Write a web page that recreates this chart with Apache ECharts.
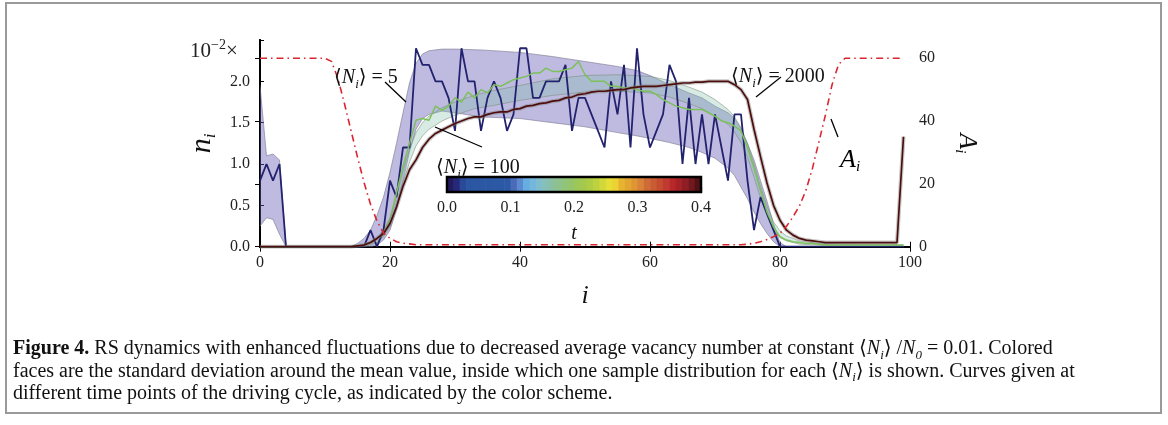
<!DOCTYPE html>
<html>
<head>
<meta charset="utf-8">
<script src="https://cdn.jsdelivr.net/npm/echarts/dist/echarts.min.js"></script>
<style>
html,body{margin:0;padding:0;background:#fff;}
#c{width:1168px;height:425px;}
</style>
</head>
<body>
<div id="c"></div>
<script>
// ---------- data ----------
const siteIndex = [0,1,2,3,4,5,6,7,8,9,10,11,12,13,14,15,16,17,18,19,20,21,22,23,24,25,26,27,28,29,30,31,32,33,34,35,36,37,38,39,40,41,42,43,44,45,46,47,48,49,50,51,52,53,54,55,56,57,58,59,60,61,62,63,64,65,66,67,68,69,70,71,72,73,74,75,76,77,78,79,80,81,82,83,84,85,86,87,88,89,90,91,92,93,94,95,96,97,98,99];

// sample distribution, <N_i> = 5  (units of 1e-2)
const sampleN5 = [0.8,1.0,0.8,1.0,0,0,0,0,0,0,0,0,0,0,0,0,0,0.2,0,0.2,
  0.8,0.6,1.2,1.2,2.4,2.2,2.2,2.0,2.0,1.8,1.4,2.4,2.0,2.0,1.4,1.8,2.0,1.8,1.4,1.6,
  2.4,2.4,1.8,1.8,2.0,2.0,2.0,2.2,1.4,1.8,1.8,1.6,1.4,1.2,2.0,1.6,2.2,1.2,2.4,1.6,
  1.2,1.4,1.6,2.2,2.0,1.0,1.8,1.0,1.6,1.0,1.6,1.2,0.8,1.6,1.6,0.8,0.2,0.6,0.4,0.2,
  0,0,0,0,0,0,0,0,0,0,0,0,0,0,0,0,0,0,0,0];

// sample distribution, <N_i> = 100
const sampleN100 = [0,0,0,0,0,0,0,0,0,0,0,0,0,0,0,0.01,0.02,0.05,0.1,0.16,
  0.33,0.65,0.97,1.25,1.53,1.55,1.53,1.7,1.65,1.7,1.8,1.75,1.87,1.8,1.9,1.86,1.96,1.94,1.98,2.02,
  2.04,2.06,2.1,2.1,2.16,2.12,2.12,2.14,2.16,2.24,2.08,2.0,2.0,2.0,1.94,1.94,1.92,1.92,1.9,1.88,
  1.88,1.84,1.78,1.74,1.7,1.68,1.66,1.66,1.66,1.62,1.58,1.52,1.5,1.46,1.4,1.2,0.95,0.68,0.42,0.24,
  0.12,0.08,0.06,0.05,0.04,0.04,0.03,0.02,0.02,0.02,0.02,0.02,0.02,0.02,0.02,0.02,0.02,0.02,0.02,0.02];

// sample distribution, <N_i> = 2000
const sampleN2000 = [0,0,0,0,0,0,0,0,0,0,0,0,0,0,0,0.01,0.02,0.05,0.1,0.16,
  0.28,0.48,0.73,0.93,1.05,1.2,1.3,1.37,1.41,1.45,1.49,1.52,1.55,1.57,1.57,1.6,1.62,1.63,1.63,1.66,
  1.67,1.7,1.71,1.73,1.74,1.76,1.77,1.8,1.81,1.84,1.85,1.87,1.88,1.88,1.89,1.9,1.9,1.92,1.93,1.94,
  1.94,1.94,1.95,1.96,1.97,1.98,1.98,1.99,1.99,2.0,2.0,2.0,2.0,1.96,1.9,1.78,1.42,1.09,0.77,0.5,
  0.32,0.2,0.14,0.1,0.08,0.07,0.06,0.05,0.05,0.05,0.05,0.05,0.05,0.05,0.05,0.05,0.05,0.05,0.05,1.33];

// driving amplitude A_i (right axis)
const amplitudeA = [60,60,60,60,60,60,60,60,60,60,60,59,53.5,45.5,37,28.5,20.5,13.5,8.2,4.3,
  2.7,1.6,1.1,0.9,0.6,0.6,0.6,0.6,0.6,0.6,0.6,0.6,0.6,0.6,0.6,0.6,0.6,0.6,0.6,0.6,
  0.6,0.6,0.6,0.6,0.6,0.6,0.6,0.6,0.6,0.6,0.6,0.6,0.6,0.6,0.6,0.6,0.6,0.6,0.6,0.6,
  0.6,0.6,0.6,0.6,0.6,0.6,0.6,0.6,0.6,0.6,0.6,0.6,0.6,0.6,0.6,0.8,1.1,1.6,2.3,3.2,
  4.3,6.5,9.5,13,18,25,33.5,42,51.5,58,60,60,60,60,60,60,60,60,60,60];

// std-dev band <N_i> = 5
const bandN5Site = [0,1,2,3,4,14,15,16,17,18,19,20,21,22,23,24,25,26,28,30,34,40,45,50,55,58,60,63,66,68,70,72,73,74,75,76,77,78,79,80,81,99];
const bandN5Low  = [0.25,0.35,0.33,0.15,0,0,0,0,0,0.02,0.08,0.2,0.45,0.8,1.15,1.42,1.55,1.6,1.64,1.62,1.57,1.55,1.5,1.45,1.38,1.34,1.31,1.26,1.2,1.14,1.07,0.95,0.86,0.72,0.58,0.42,0.28,0.16,0.06,0,0,0];
const bandN5High = [1.95,1.1,1.12,1.05,0,0,0.04,0.1,0.2,0.38,0.6,0.9,1.25,1.62,1.98,2.22,2.33,2.37,2.39,2.39,2.38,2.35,2.3,2.24,2.18,2.13,2.07,1.96,1.86,1.8,1.7,1.62,1.55,1.43,1.25,1.05,0.8,0.55,0.28,0.05,0,0];

// std-dev band <N_i> = 100
const bandN100Site = [0,15,16,17,18,19,20,21,22,23,24,25,26,28,30,33,36,40,45,50,55,60,63,66,68,70,72,73,74,75,76,77,78,79,80,81,83,86,90,99];
const bandN100Low  = [0,0,0.01,0.02,0.05,0.12,0.25,0.49,0.78,1.02,1.22,1.34,1.42,1.52,1.59,1.67,1.71,1.77,1.83,1.87,1.88,1.86,1.81,1.73,1.67,1.58,1.48,1.39,1.26,1.08,0.84,0.59,0.37,0.2,0.11,0.07,0.03,0.02,0.01,0];
const bandN100High = [0,0,0.03,0.06,0.11,0.2,0.35,0.61,0.92,1.18,1.38,1.5,1.58,1.68,1.75,1.83,1.89,1.95,2.03,2.07,2.08,2.06,2.01,1.93,1.87,1.78,1.66,1.57,1.44,1.24,1.0,0.73,0.49,0.3,0.19,0.13,0.07,0.04,0.03,0.02];

// colour scale for time t
const colorbarColors = ['#221c5e','#26287a','#2a4a98','#2b56a2','#2b57a3','#2b57a3','#2b58a4','#2c58a4','#2c59a5','#2d5aa6',
  '#4b6bb8','#5b8ad0','#66aee2','#74b6dc','#7fbccc','#86bfb8','#8bbfa2','#8ec18c','#90c47a','#95c56a',
  '#9ec75a','#a5c94c','#afcd44','#bdd23e','#d0d83a','#e6de36','#ecd232','#e6b430','#e2a630','#de9632',
  '#d8823a','#cf6c36','#c95c32','#c44c30','#c03a30','#b8282a','#a62224','#8e1e24','#741820','#501214'];
const colorbarTicks = [0, 0.1, 0.2, 0.3, 0.4];
const xTicks = [0, 20, 40, 60, 80, 100];
const leftTicks = [0, 0.5, 1.0, 1.5, 2.0];
const rightTicks = [0, 20, 40, 60];

// ---------- chart ----------
const SERIF = "'Liberation Serif','DejaVu Serif',serif";
const chart = echarts.init(document.getElementById('c'), null, {renderer: 'canvas'});

const pairs = (xs, ys) => xs.map((x, k) => [x, ys[k]]);
const triples = (xs, lo, hi) => xs.map((x, k) => [x, lo[k], hi[k]]);
const tStep = colorbarTicks[colorbarTicks.length - 1] / colorbarColors.length;
const colorbarData = colorbarColors.map((c, k) => [k * tStep, (k + 1) * tStep, k]);

function bandSeries(name, data, fill, edge) {
  return {name, type: 'custom', xAxisIndex: 0, yAxisIndex: 0, z: 1, data, clip: true,
    renderItem: function (params, api) {
      if (params.dataIndex !== 0) return null;
      const n = params.dataInsideLength;
      const lo = [], hi = [];
      for (let k = 0; k < n; k++) {
        lo.push(api.coord([api.value(0, k), api.value(1, k)]));
        hi.push(api.coord([api.value(0, k), api.value(2, k)]));
      }
      return {type: 'group', children: [
        {type: 'polygon', shape: {points: lo.concat(hi.slice().reverse())}, style: {fill: fill}},
        {type: 'polyline', shape: {points: lo}, style: {fill: null, stroke: edge, lineWidth: 1}},
        {type: 'polyline', shape: {points: hi}, style: {fill: null, stroke: edge, lineWidth: 1}}
      ]};
    }};
}

const subRich = {
  it: {fontStyle: 'italic', fontFamily: SERIF, fontSize: 20, color: '#111'},
  sub: {fontStyle: 'italic', fontFamily: SERIF, fontSize: 13, color: '#111', verticalAlign: 'bottom', lineHeight: 27},
  n: {fontFamily: SERIF, fontSize: 20, color: '#111'}
};

const tickLabel = {fontFamily: SERIF, fontSize: 16, color: '#222'};

function annot(x, y, txt) {
  return {type: 'text', left: x, top: y, z: 100,
    style: {text: txt, rich: subRich, font: '20px ' + SERIF, fill: '#111', textVerticalAlign: 'middle'}};
}
function pointer(x1, y1, x2, y2) {
  return {type: 'line', z: 100, shape: {x1, y1, x2, y2}, style: {stroke: '#000', lineWidth: 1.3}};
}

const capRich = {
  b: {fontWeight: 'bold', fontFamily: SERIF, fontSize: 20, color: '#111'},
  it: {fontStyle: 'italic', fontFamily: SERIF, fontSize: 20, color: '#111'},
  sub: {fontStyle: 'italic', fontFamily: SERIF, fontSize: 13, color: '#111', verticalAlign: 'bottom', lineHeight: 26}
};
function caption(y, txt) {
  return {type: 'text', left: 13, top: y, z: 100,
    style: {text: txt, rich: capRich, font: '20px ' + SERIF, fill: '#111', textVerticalAlign: 'middle'}};
}

const option = {
  animation: false,
  backgroundColor: '#fff',
  grid: [
    {left: 260, top: 40, width: 650, height: 206.7, show: false},
    {left: 447, top: 177, width: 254, height: 15, show: true, borderColor: '#000', borderWidth: 2.5, backgroundColor: 'transparent', z: 20}
  ],
  xAxis: [
    {gridIndex: 0, type: 'value', min: xTicks[0], max: xTicks[xTicks.length - 1], interval: 20, position: 'bottom',
      axisLine: {lineStyle: {color: '#000', width: 2}}, axisTick: {inside: true, length: 5, lineStyle: {color: '#000', width: 1}},
      axisLabel: Object.assign({margin: 8}, tickLabel), splitLine: {show: false},
      name: 'i', nameLocation: 'middle', nameGap: 36,
      nameTextStyle: {fontFamily: SERIF, fontStyle: 'italic', fontSize: 26, color: '#111'}},
    {gridIndex: 0, type: 'value', min: xTicks[0], max: xTicks[xTicks.length - 1], interval: 20, position: 'top',
      axisLine: {lineStyle: {color: '#000', width: 2}}, axisTick: {inside: true, length: 5, lineStyle: {color: '#000', width: 1}},
      axisLabel: {show: false}, splitLine: {show: false}},
    {gridIndex: 1, type: 'value', min: colorbarTicks[0], max: colorbarTicks[colorbarTicks.length - 1], interval: 0.1,
      axisLine: {show: false}, axisTick: {inside: true, length: 5, lineStyle: {color: '#000', width: 1.2}},
      axisLabel: Object.assign({margin: 8, formatter: v => v.toFixed(1)}, tickLabel), splitLine: {show: false},
      name: 't', nameLocation: 'middle', nameGap: 32,
      nameTextStyle: {fontFamily: SERIF, fontStyle: 'italic', fontSize: 20, color: '#111'}}
  ],
  yAxis: [
    {gridIndex: 0, type: 'value', min: 0, max: 2.5, interval: 0.5, position: 'left',
      axisLine: {show: true, lineStyle: {color: '#000', width: 2}}, axisTick: {show: true, inside: true, length: 4, lineStyle: {color: '#000', width: 1}},
      axisLabel: Object.assign({margin: 10, formatter: v => leftTicks.indexOf(v) >= 0 ? v.toFixed(1) : ''}, tickLabel),
      splitLine: {show: false},
      name: '{it|n}{sub|i}', nameLocation: 'middle', nameGap: 28, nameRotate: 90,
      nameTextStyle: {rich: {it: {fontStyle: 'italic', fontFamily: SERIF, fontSize: 30, color: '#111'}, sub: {fontStyle: 'italic', fontFamily: SERIF, fontSize: 17, color: '#111', verticalAlign: 'bottom', lineHeight: 34}}}},
    {gridIndex: 0, type: 'value', min: 0, max: 65.8, interval: 20, position: 'right',
      axisLine: {show: true, lineStyle: {color: '#000', width: 2}}, axisTick: {show: true, inside: true, length: 5, lineStyle: {color: '#000', width: 1}},
      axisLabel: Object.assign({margin: 9, showMaxLabel: false, formatter: v => rightTicks.indexOf(v) >= 0 ? String(v) : ''}, tickLabel),
      splitLine: {show: false},
      name: '{it|A}{sub|i}', nameLocation: 'middle', nameGap: 42, nameRotate: -90,
      nameTextStyle: {rich: {it: {fontStyle: 'italic', fontFamily: SERIF, fontSize: 26, color: '#111'}, sub: {fontStyle: 'italic', fontFamily: SERIF, fontSize: 15, color: '#111', verticalAlign: 'bottom', lineHeight: 30}}}},
    {gridIndex: 1, type: 'value', min: 0, max: 1, show: false}
  ],
  series: [
    bandSeries('band5', triples(bandN5Site, bandN5Low, bandN5High), 'rgba(100,90,180,0.42)', 'rgba(120,120,140,0.6)'),
    bandSeries('band100', triples(bandN100Site, bandN100Low, bandN100High), 'rgba(130,190,170,0.32)', 'rgba(120,140,120,0.55)'),
    {name: 'N5', type: 'line', xAxisIndex: 0, yAxisIndex: 0, symbol: 'none', z: 3,
      data: pairs(siteIndex, sampleN5), lineStyle: {color: '#22226e', width: 1.8}},
    {name: 'N100', type: 'line', xAxisIndex: 0, yAxisIndex: 0, symbol: 'none', z: 3,
      data: pairs(siteIndex, sampleN100), lineStyle: {color: '#7cc15a', width: 1.5}},
    {name: 'N2000halo', type: 'line', xAxisIndex: 0, yAxisIndex: 0, symbol: 'none', z: 3,
      data: pairs(siteIndex, sampleN2000), lineStyle: {color: 'rgba(130,130,130,0.45)', width: 4}},
    {name: 'N2000', type: 'line', xAxisIndex: 0, yAxisIndex: 0, symbol: 'none', z: 4,
      data: pairs(siteIndex, sampleN2000), lineStyle: {color: '#4d0d0d', width: 1.7}},
    {name: 'A', type: 'line', xAxisIndex: 0, yAxisIndex: 1, symbol: 'none', z: 5,
      data: pairs(siteIndex, amplitudeA), lineStyle: {color: '#d9262f', width: 1.6, type: [7, 4, 1.5, 4]}},
    {name: 'colorbar', type: 'custom', xAxisIndex: 2, yAxisIndex: 2, z: 10,
      data: colorbarData,
      renderItem: function (params, api) {
        const p0 = api.coord([api.value(0), 1]);
        const p1 = api.coord([api.value(1), 0]);
        return {type: 'rect', shape: {x: p0[0], y: p0[1], width: p1[0] - p0[0] + 0.6, height: p1[1] - p0[1]},
          style: {fill: colorbarColors[api.value(2)]}};
      }}
  ],
  graphic: [
    {type: 'rect', z: 100, shape: {x: 6, y: 3, width: 1155, height: 410}, style: {fill: 'none', stroke: '#9a9a9a', lineWidth: 2}},
    {type: 'text', left: 190, top: 38, z: 100,
      style: {text: '10{sup|−2}×', rich: {sup: {fontFamily: SERIF, fontSize: 14, color: '#222', verticalAlign: 'top', lineHeight: 26}},
        font: '21px ' + SERIF, fill: '#222', textVerticalAlign: 'middle'}},
    annot(334, 68, '⟨{it|N}{sub|i}⟩ = 5'),
    pointer(385, 82, 406, 102),
    annot(436, 158, '⟨{it|N}{sub|i}⟩ = 100'),
    pointer(435, 127, 482, 147),
    annot(731, 67, '⟨{it|N}{sub|i}⟩ = 2000'),
    pointer(781, 77, 756, 97),
    {type: 'text', left: 840, top: 147, z: 100,
      style: {text: '{it|A}{sub|i}', rich: {it: {fontStyle: 'italic', fontFamily: SERIF, fontSize: 26, color: '#111'}, sub: {fontStyle: 'italic', fontFamily: SERIF, fontSize: 15, color: '#111', verticalAlign: 'bottom', lineHeight: 30}},
        textVerticalAlign: 'middle'}},
    pointer(831, 119, 838, 137),
    caption(339, '{b|Figure 4.} RS dynamics with enhanced fluctuations due to decreased average vacancy number at constant ⟨{it|N}{sub|i}⟩ /{it|N}{sub|0} = 0.01. Colored'),
    caption(361.5, 'faces are the standard deviation around the mean value, inside which one sample distribution for each ⟨{it|N}{sub|i}⟩ is shown. Curves given at'),
    caption(383.5, 'different time points of the driving cycle, as indicated by the color scheme.')
  ]
};
chart.setOption(option);
</script>
</body>
</html>
